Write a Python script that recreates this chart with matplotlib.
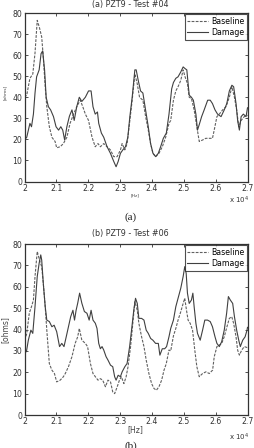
import matplotlib
import matplotlib.pyplot as plt
import numpy as np

matplotlib.use("Agg")

# (a) PZT9 - Test #04
freq_a_base = [20000, 20070, 20170, 20260, 20330, 20400, 20470, 20540, 20590, 20650,
               20700, 20780, 20860, 20960, 21010, 21120, 21220, 21330, 21430, 21540,
               21640, 21750, 21830, 21910, 22010, 22120, 22220, 22308, 22382, 22487,
               22592, 22697, 22802, 22907, 23012, 23065, 23149, 23222, 23307, 23380,
               23464, 23538, 23611, 23716, 23800, 23885, 23958, 24032, 24116, 24221,
               24326, 24431, 24536, 24590, 24675, 24750, 24820, 24905, 24980, 25040,
               25115, 25170, 25240, 25325, 25410, 25485, 25590, 25690, 25800, 25900,
               25955, 26040, 26115, 26220, 26325, 26430, 26510, 26590, 26660, 26725,
               26800, 26900, 27000]
ohms_a_base = [40, 41, 49, 51, 61, 76.5, 73, 68.6, 59, 45,
               35.5, 26, 21, 19, 16, 16.5, 18, 21, 27.6, 32,
               35.5, 38.6, 35.5, 32, 29, 21, 16.5, 18, 16.5, 18,
               16.5, 15, 11.8, 11.8, 15, 18, 15, 18, 29, 38.6,
               51, 46.5, 40, 38.6, 31, 24.4, 18, 13.4, 11.8, 13.4,
               16.5, 21, 27.6, 29, 38.6, 43, 45, 48, 53, 49.7,
               46.5, 40, 39.4, 34, 26, 19, 19.7, 20.5, 20.5, 20.5,
               24.4, 30.8, 32, 34, 35.5, 40, 45, 40, 34, 26,
               29, 30.8, 31.5]

freq_a_dmg = [20000, 20070, 20170, 20220, 20280, 20330, 20380, 20460, 20520, 20570,
              20630, 20680, 20750, 20820, 20910, 20990, 21070, 21140, 21200, 21260,
              21330, 21410, 21490, 21560, 21640, 21720, 21800, 21910, 22010, 22090,
              22150, 22220, 22290, 22330, 22413, 22487, 22592, 22697, 22802, 22875,
              22940, 23012, 23086, 23170, 23243, 23307, 23380, 23464, 23506, 23570,
              23643, 23716, 23800, 23885, 23958, 24032, 24116, 24200, 24273, 24358,
              24452, 24536, 24620, 24675, 24750, 24820, 24905, 24980, 25040, 25095,
              25170, 25240, 25300, 25380, 25430, 25485, 25560, 25640, 25750, 25830,
              25900, 25980, 26060, 26170, 26270, 26350, 26430, 26510, 26565, 26640,
              26690, 26745, 26800, 26870, 26955, 27000]
ohms_a_dmg = [19.7, 21, 27.6, 26, 32, 42, 49.7, 53, 60.7, 62,
              53, 40, 35.5, 34, 30.8, 26, 24.4, 26, 24.4, 19.7,
              26, 31, 34, 29, 35.5, 40, 38, 40, 43, 43,
              35.5, 32, 33, 27.6, 23, 21, 16.5, 13.4, 9.5, 7,
              9.5, 13.4, 15, 16.5, 21, 30.8, 40, 53, 53, 48,
              43, 42, 34, 26, 18, 13.4, 11.8, 13.4, 16.5, 20.5,
              23, 32, 44, 47, 49, 49.7, 52, 54.4, 53.6, 53,
              41, 40, 38.6, 32, 24.4, 27, 30.8, 34, 38.6, 38.6,
              37, 34, 32, 30.8, 34, 37, 43, 45.7, 45, 37,
              29, 24.4, 30.8, 32, 30.8, 35]

# (b) PZT9 - Test #06
freq_b_base = [20000, 20070, 20150, 20220, 20280, 20330, 20400, 20470, 20540, 20590,
               20650, 20700, 20780, 20860, 20940, 21010, 21120, 21220, 21280, 21380,
               21490, 21590, 21670, 21720, 21800, 21910, 21980, 22070, 22150, 22224,
               22308, 22382, 22455, 22540, 22620, 22700, 22770, 22830, 22910, 22980,
               23040, 23120, 23190, 23250, 23330, 23400, 23465, 23540, 23590, 23675,
               23750, 23820, 23905, 23990, 24065, 24140, 24220, 24305, 24380, 24450,
               24535, 24590, 24675, 24750, 24820, 24905, 24980, 25030, 25085, 25135,
               25200, 25275, 25345, 25410, 25485, 25590, 25695, 25800, 25905, 25955,
               26040, 26115, 26190, 26270, 26355, 26430, 26505, 26565, 26640, 26690,
               26745, 26820, 26900, 27000]
ohms_b_base = [35, 38, 47.6, 50.7, 53.8, 64.8, 76.5, 72.5, 69.4, 61.6,
               50.7, 39.7, 24, 21, 19.4, 15.5, 16.3, 17.9, 19.4, 22.6,
               27.3, 33.5, 36.6, 40.5, 35, 33.5, 32, 24, 19.4, 17.9,
               16.3, 17, 16.3, 13.2, 16.3, 15.5, 10.8, 10, 13.2, 16.3,
               17.9, 14.7, 17.9, 22.6, 32, 42.9, 53, 49, 42.9, 36.6,
               32, 25.7, 19.4, 14.7, 12.4, 11.6, 13.2, 16.3, 21, 24,
               30.4, 30, 37, 40.5, 44.4, 48.3, 52.2, 54.6, 49, 44.4,
               42.9, 39.7, 30.4, 22.6, 17.9, 19.4, 20.2, 19.4, 21, 27.2,
               32, 32.7, 33.5, 36.6, 41.3, 45.2, 46, 42.9, 36.6, 30.4,
               28, 30.4, 32, 31.5]

freq_b_dmg = [20000, 20060, 20120, 20200, 20260, 20330, 20400, 20460, 20510, 20540,
              20590, 20650, 20700, 20780, 20860, 20930, 21010, 21100, 21170, 21240,
              21310, 21380, 21450, 21520, 21570, 21620, 21670, 21730, 21800, 21880,
              21960, 22030, 22090, 22150, 22224, 22276, 22330, 22382, 22434, 22487,
              22560, 22620, 22700, 22770, 22830, 22875, 22940, 23010, 23065, 23150,
              23220, 23300, 23360, 23430, 23485, 23540, 23590, 23675, 23750, 23820,
              23885, 23960, 24030, 24115, 24200, 24250, 24325, 24400, 24460, 24535,
              24590, 24675, 24750, 24820, 24905, 24980, 25030, 25075, 25115, 25170,
              25240, 25285, 25325, 25380, 25430, 25515, 25590, 25660, 25745, 25830,
              25900, 25980, 26040, 26115, 26190, 26270, 26345, 26400, 26460, 26535,
              26590, 26660, 26725, 26775, 26850, 26925, 26985, 27000]
ohms_b_dmg = [29.6, 29.6, 35, 39.7, 38.2, 50.7, 64.8, 71, 74.9, 72.5,
              61.6, 50.7, 44.4, 43.7, 41.3, 42, 39, 32, 33.5, 32,
              36.6, 41.3, 46, 49, 44.4, 49, 52.3, 57, 52.3, 48.4,
              47.6, 44.4, 49, 44.4, 42.9, 40.5, 33.5, 31, 32, 30.4,
              27.3, 25.7, 23.3, 22.6, 17.9, 16.3, 18.6, 17.9, 20.2, 22.6,
              24.1, 32, 39.7, 49, 54.6, 52.2, 45.2, 45.2, 44.4, 39.7,
              38.2, 35.8, 35, 33.5, 33.5, 28, 31, 31, 32, 36.6,
              40.5, 44.4, 50.7, 54.6, 59.3, 64.8, 69.4, 66.3, 57, 52.2,
              53.8, 57, 50.7, 42.9, 38.2, 35, 39.7, 44.4, 44.4, 43.7,
              41.3, 36.6, 33.5, 32, 34.3, 39.7, 47.6, 55.4, 53.8, 52.2,
              46, 39.7, 35, 32, 35, 36.6, 39.7, 41]

xticks = [2, 2.1, 2.2, 2.3, 2.4, 2.5, 2.6, 2.7]
yticks = [0, 10, 20, 30, 40, 50, 60, 70, 80]

W, H = 254, 448
fig = plt.figure(figsize=(W / 100, H / 100), dpi=100)
fig.patch.set_facecolor("white")

panels = [
    dict(top=13, bottom=181.5, title="(a) PZT9 - Test #04", title_y=4.5,
         base=(freq_a_base, ohms_a_base), dmg=(freq_a_dmg, ohms_a_dmg),
         lab_fs=3.2, ylab_y=92, xlab_y=195, off_y=200, cap="(a)", cap_y=212),
    dict(top=244, bottom=415, title="(b) PZT9 - Test #06", title_y=233.5,
         base=(freq_b_base, ohms_b_base), dmg=(freq_b_dmg, ohms_b_dmg),
         lab_fs=5.5, ylab_y=330, xlab_y=430, off_y=437, cap="(b)", cap_y=441),
]

left, right = 24.5, 247.5
for p in panels:
    ax = fig.add_axes([left / W, 1 - p["bottom"] / H, (right - left) / W,
                       (p["bottom"] - p["top"]) / H])
    fb, vb = p["base"]
    fd, vd = p["dmg"]
    ax.plot(np.array(fb) / 1e4, vb, linestyle="--", color="#606060",
            linewidth=0.8, dashes=(2.5, 1.2), label="Baseline")
    ax.plot(np.array(fd) / 1e4, vd, linestyle="-", color="#404040",
            linewidth=0.8, label="Damage")
    ax.set_xlim(2, 2.7)
    ax.set_ylim(0, 80)
    ax.set_xticks(xticks)
    ax.set_xticklabels([f"{t:g}" for t in xticks])
    ax.set_yticks(yticks)
    ax.tick_params(direction="in", length=2.5, width=0.6, labelsize=5.6,
                   top=True, right=True, pad=1.5, colors="#333333")
    for s in ax.spines.values():
        s.set_linewidth(0.9)
        s.set_color("#333333")
    leg = ax.legend(loc="upper right", fontsize=5.6, frameon=True,
                    fancybox=False, borderaxespad=0.1, handlelength=2.6,
                    handletextpad=0.4, borderpad=0.35, labelspacing=0.3)
    leg.get_frame().set_edgecolor("#222222")
    leg.get_frame().set_linewidth(0.8)

    fig.text(130 / W, 1 - p["title_y"] / H, p["title"], ha="center",
             va="center", fontsize=5.8, color="#333333")
    fig.text(5 / W, 1 - p["ylab_y"] / H, "[ohms]", rotation=90, ha="center",
             va="center", fontsize=p["lab_fs"], color="#444444")
    fig.text(135 / W, 1 - p["xlab_y"] / H, "[Hz]", ha="center", va="center",
             fontsize=p["lab_fs"], color="#444444")
    fig.text(239 / W, 1 - p["off_y"] / H, r"x 10$^{4}$", ha="center",
             va="center", fontsize=5.0, color="#333333")
    fig.text(131 / W, 1 - p["cap_y"] / H, p["cap"], ha="center", va="top",
             fontsize=8, family="Liberation Serif", color="#222222")

fig.savefig("out.png", dpi=100, facecolor="white")
